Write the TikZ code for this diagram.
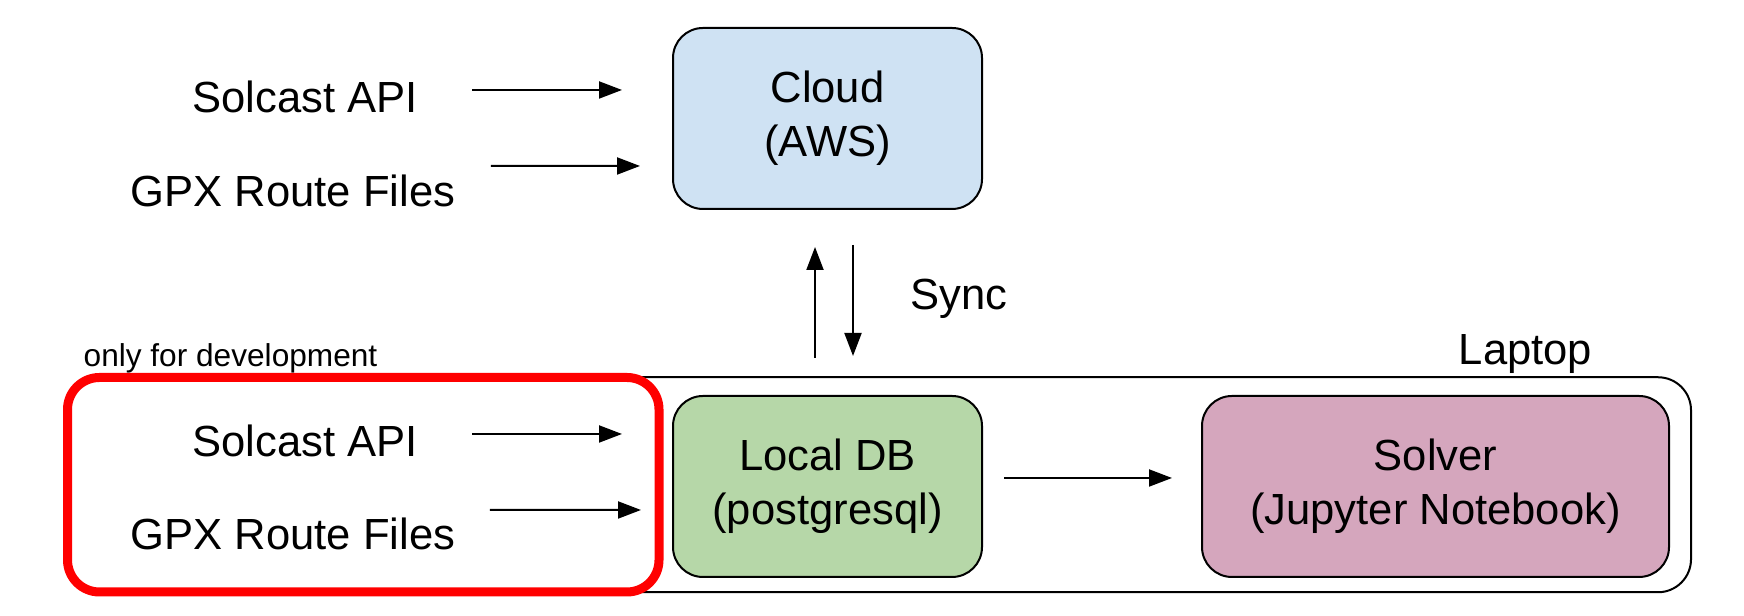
\documentclass[tikz,border=0pt]{standalone}
\usepackage{fontspec}
\setmainfont{Liberation Sans}
\usepackage{tikz}
\usetikzlibrary{positioning}
\usetikzlibrary{arrows.meta}
\definecolor{cloudblue}{HTML}{CFE2F3}
\definecolor{dbgreen}{HTML}{B6D7A8}
\definecolor{solverpink}{HTML}{D5A6BD}

\begin{document}
\begin{tikzpicture}[unitbox/.style={
			draw,
			rounded corners=3mm,
			line width=0.2mm,
			outer sep=0pt,
			minimum width=3.09cm,
			minimum height=1.81cm,
			align=center,
			font=\fontsize{12.4}{15.4}\selectfont
		}, srctext/.style={inner sep=0pt, anchor=base, font=\fontsize{12.4}{15.4}\selectfont},
		flow/.style={-{Triangle[length=2.3mm,width=1.7mm]}, line width=0.2mm}]
		\useasboundingbox (0,0) rectangle (17.44,6.16);
		
		% laptop frame and the red dev-only frame on top of it
		\node[draw, line width=0.2mm, rounded corners=3.3mm, minimum width=16.235cm, minimum height=2.15cm] (laptop) at (8.7925,1.3125) {};
		\node[draw=red, fill=white, line width=0.9mm, rounded corners=3.2mm, minimum width=5.915cm, minimum height=2.145cm] (devbox) at (3.6325,1.3125) {};
		
		\node[unitbox, fill=dbgreen] (localdb) at (8.275,1.295) {Local DB\\(postgresql)};
		\node[unitbox, fill=cloudblue, above=1.87cm of localdb] (cloud) {Cloud\\(AWS)};
		\node[unitbox, fill=solverpink, minimum width=4.67cm, right=2.2cm of localdb] (solver) {Solver\\(Jupyter Notebook)};
		
		\node[srctext] (apitop) at (3.05,5.03) {Solcast API};
		\node[srctext] (gpxtop) at (2.93,4.09) {GPX Route Files};
		\node[srctext] (apidev) at (3.05,1.59) {Solcast API};
		\node[srctext] (gpxdev) at (2.93,0.66) {GPX Route Files};
		
		\node[srctext, anchor=base west] (sync) at (9.10,3.06) {Sync};
		\node[srctext] (laptoplbl) at (15.255,2.51) {Laptop};
		\node[srctext, font=\fontsize{9}{11}\selectfont] (devlbl) at (2.305,2.49) {only for development};
		
		\draw[flow] ([shift={(0.54,0.23)}]apitop.base east) -- ([shift={(-0.51,0.285)}]cloud.west);
		\draw[flow] ([shift={(0.35,0.41)}]gpxtop.base east) -- ([shift={(-0.33,-0.475)}]cloud.west);
		\draw[flow] ([shift={(0.54,0.23)}]apidev.base east) -- ([shift={(-0.51,0.525)}]localdb.west);
		\draw[flow] ([shift={(0.34,0.40)}]gpxdev.base east) -- ([shift={(-0.32,-0.235)}]localdb.west);
		
		% sync both ways
		\draw[flow] ([shift={(-0.125,0.38)}]localdb.north) -- ([shift={(-0.125,-0.38)}]cloud.south);
		\draw[flow] ([shift={(0.255,-0.36)}]cloud.south) -- ([shift={(0.255,0.40)}]localdb.north);
		
		\draw[flow] ([shift={(0.22,0.085)}]localdb.east) -- ([shift={(-0.30,0.085)}]solver.west);
	\end{tikzpicture}
\end{document}
